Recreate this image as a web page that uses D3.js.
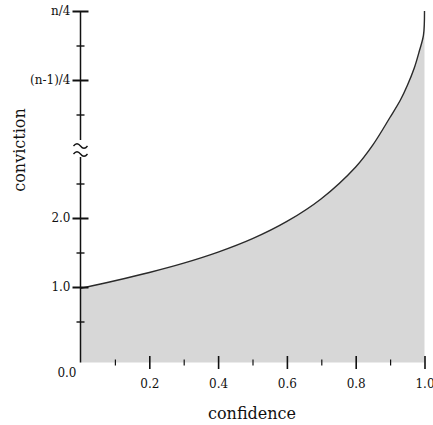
<!DOCTYPE html>
<html>
<head>
<meta charset="utf-8">
<script src="https://cdn.jsdelivr.net/npm/d3@7"></script>
<style>
  body { margin: 0; background: #fff; }
  svg { display: block; }
  text { font-family: "DejaVu Serif", "Liberation Serif", serif; fill: #111; }
</style>
</head>
<body>
<svg id="chart" width="433" height="425"></svg>
<script>
// Conviction as a function of confidence (upper part of the axis is compressed by a break)
const confidence = [0, 0.1, 0.2, 0.3, 0.4, 0.5, 0.6, 0.7, 0.8, 0.85, 0.9, 0.93, 0.95, 0.97, 0.985, 0.997, 1.0];
const conviction = [0.98, 1.09, 1.21, 1.345, 1.505, 1.70, 1.95, 2.28, 2.74, 3.06, 3.46, 3.71, 3.92, 4.17, 4.42, 4.65, 5.0];

const xMajorTicks = [0.2, 0.4, 0.6, 0.8, 1.0];
const xMinorTicks = [0.1, 0.3, 0.5, 0.7, 0.9];
const xTickLabels = ["0.2", "0.4", "0.6", "0.8", "1.0"];

const yMajorTicks = [1, 2, 4, 5];
const yMinorTicks = [0.5, 1.5, 2.5, 3.5, 4.5];
const yTickLabels = ["1.0", "2.0", "(n-1)/4", "n/4"];
const yBreakAt = 3;
const originLabel = "0.0";

const svg = d3.select("#chart");
const plotLeft = 80.5, plotRight = 424.5, plotBottom = 362.5;

const x = d3.scaleLinear().domain([0, 1]).range([plotLeft, plotRight]);
const y = d3.scaleLinear().domain([0, 5]).range([356, 11]);

const data = confidence.map((c, i) => ({ c, v: conviction[i] }));
const curve = d3.curveCatmullRom.alpha(0.5);

// shaded region under the curve
const area = d3.area()
  .x(d => x(d.c))
  .y0(plotBottom)
  .y1(d => y(d.v))
  .curve(curve);

svg.append("path")
  .datum(data)
  .attr("d", area)
  .attr("fill", "#d7d7d7")
  .attr("stroke", "none");

svg.append("path")
  .datum(data)
  .attr("d", d3.line().x(d => x(d.c)).y(d => y(d.v)).curve(curve))
  .attr("fill", "none")
  .attr("stroke", "#2a2a2a")
  .attr("stroke-width", 1.4);

// ---- x axis: ticks straddle the bottom edge, no axis line ----
const xAxis = svg.append("g")
  .attr("transform", `translate(0,${plotBottom})`)
  .call(d3.axisBottom(x).tickValues(xMajorTicks).tickSize(6.5)
        .tickFormat((d, i) => xTickLabels[i]));
xAxis.select(".domain").remove();
xAxis.selectAll(".tick line").attr("y1", -6.5).attr("y2", 6.5)
  .attr("stroke", "#111").attr("stroke-width", 1.6);
xAxis.selectAll(".tick text").attr("y", 25.5).attr("dy", null)
  .attr("font-size", 12).attr("font-family", null);

const xMinor = svg.append("g")
  .attr("transform", `translate(0,${plotBottom})`)
  .call(d3.axisBottom(x).tickValues(xMinorTicks).tickSize(3).tickFormat(""));
xMinor.select(".domain").remove();
xMinor.selectAll(".tick line").attr("y1", -3).attr("y2", 3)
  .attr("stroke", "#111").attr("stroke-width", 1.2);

// ---- y axis with a break ----
const axisTop = y(5), breakTop = y(yBreakAt) + 8, breakBottom = y(yBreakAt) - 9;
const spine = svg.append("g").attr("stroke", "#111").attr("stroke-width", 1.5);
spine.append("line").attr("x1", plotLeft).attr("x2", plotLeft)
  .attr("y1", axisTop).attr("y2", breakBottom);
spine.append("line").attr("x1", plotLeft).attr("x2", plotLeft)
  .attr("y1", breakTop).attr("y2", plotBottom);

// break marks (≈)
const by = y(yBreakAt);
[-4, 4].forEach(off => {
  svg.append("path")
    .attr("d", `M${plotLeft - 7},${by + off + 1} q3.5,-4.5 7,0 t7,0`)
    .attr("fill", "none").attr("stroke", "#111").attr("stroke-width", 1.3);
});

const yAxis = svg.append("g")
  .attr("transform", `translate(${plotLeft},0)`)
  .call(d3.axisLeft(y).tickValues(yMajorTicks).tickSize(8).tickPadding(2)
        .tickFormat((d, i) => yTickLabels[i]));
yAxis.select(".domain").remove();
yAxis.selectAll(".tick line").attr("x1", 8).attr("x2", -8)
  .attr("stroke", "#111").attr("stroke-width", 2);
yAxis.selectAll(".tick text").attr("font-size", 12).attr("font-family", null);

const yMinor = svg.append("g")
  .attr("transform", `translate(${plotLeft},0)`)
  .call(d3.axisLeft(y).tickValues(yMinorTicks).tickSize(4).tickFormat(""));
yMinor.select(".domain").remove();
yMinor.selectAll(".tick line").attr("x1", 4).attr("x2", -4)
  .attr("stroke", "#111").attr("stroke-width", 1.4);

// origin label
svg.append("text")
  .attr("x", plotLeft - 4).attr("y", plotBottom + 14.5)
  .attr("text-anchor", "end").attr("font-size", 12)
  .text(originLabel);

// axis titles
svg.append("text")
  .attr("x", 252).attr("y", 419)
  .attr("text-anchor", "middle").attr("font-size", 16)
  .text("confidence");

svg.append("text")
  .attr("transform", "translate(25,150) rotate(-90)")
  .attr("text-anchor", "middle").attr("font-size", 16)
  .text("conviction");
</script>
</body>
</html>
